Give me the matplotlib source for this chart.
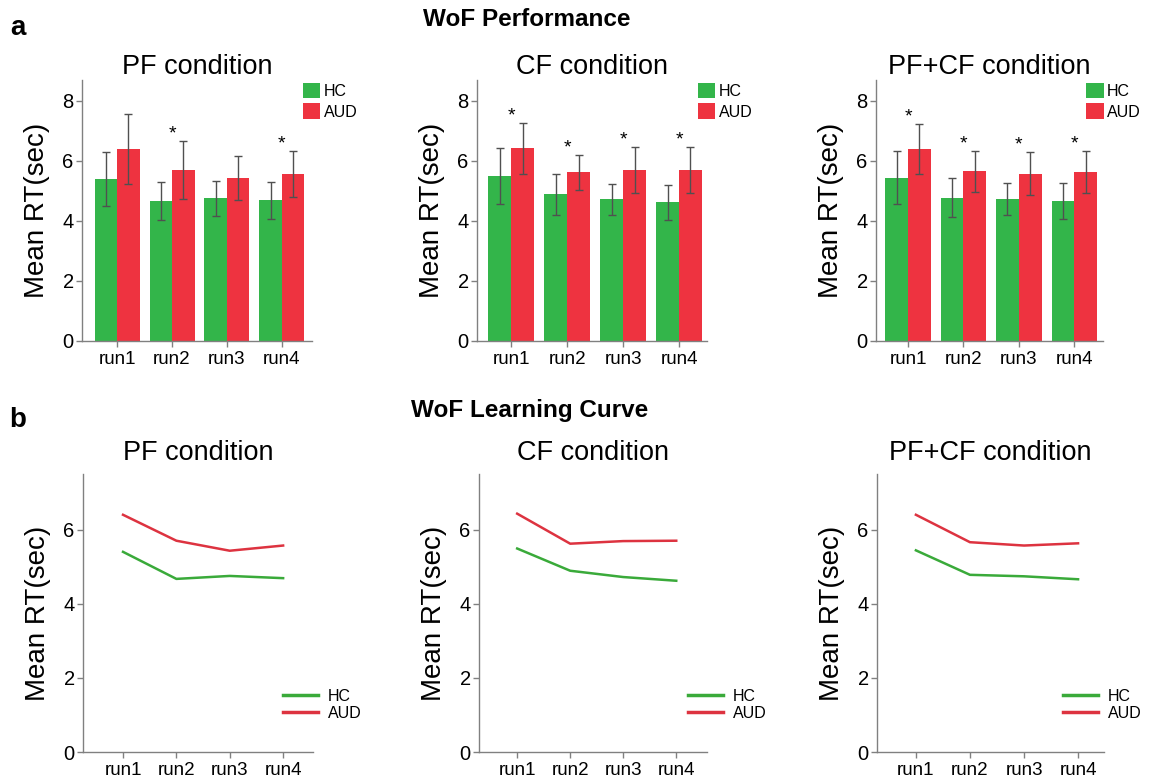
import matplotlib
matplotlib.use("Agg")
import matplotlib.pyplot as plt
import numpy as np
from matplotlib.patches import Patch
from matplotlib.lines import Line2D

plt.rcParams['font.family'] = ['Liberation Sans', 'DejaVu Sans']

runs = ["run1", "run2", "run3", "run4"]
conditions = ["PF condition", "CF condition", "PF+CF condition"]

# Mean RT (sec)
hc_pf = [5.40, 4.67, 4.75, 4.69]
aud_pf = [6.40, 5.70, 5.43, 5.57]
hc_cf = [5.49, 4.89, 4.72, 4.62]
aud_cf = [6.43, 5.62, 5.69, 5.70]
hc_pfcf = [5.44, 4.78, 4.74, 4.66]
aud_pfcf = [6.40, 5.66, 5.57, 5.63]

# Error bar half-lengths
hc_pf_err = [0.90, 0.62, 0.60, 0.61]
aud_pf_err = [1.18, 0.96, 0.73, 0.77]
hc_cf_err = [0.93, 0.68, 0.51, 0.58]
aud_cf_err = [0.85, 0.58, 0.77, 0.78]
hc_pfcf_err = [0.88, 0.64, 0.53, 0.59]
aud_pfcf_err = [0.83, 0.69, 0.72, 0.70]

# Significance markers (True = *)
sig_pf = [False, True, False, True]
sig_cf = [True, True, True, True]
sig_pfcf = [True, True, True, True]

hc_means = [hc_pf, hc_cf, hc_pfcf]
aud_means = [aud_pf, aud_cf, aud_pfcf]
hc_errs = [hc_pf_err, hc_cf_err, hc_pfcf_err]
aud_errs = [aud_pf_err, aud_cf_err, aud_pfcf_err]
sigs = [sig_pf, sig_cf, sig_pfcf]

GREEN = "#33b54a"
RED = "#ee3340"
LGREEN = "#3aaa3a"
LRED = "#dd3340"
SPINE = "#808080"

fig = plt.figure(figsize=(11.57, 7.79), dpi=100)

W, H = 1157, 779
def ax_rect(left, right, top, bottom):
    return [left / W, 1 - bottom / H, (right - left) / W, (bottom - top) / H]

top_rects = [ax_rect(82, 312, 80, 341), ax_rect(477, 707, 80, 341), ax_rect(876, 1103, 80, 341)]
bot_rects = [ax_rect(83, 313, 474, 752), ax_rect(479, 707, 474, 752), ax_rect(877, 1104, 474, 752)]
top_xlims = [(-0.64, 3.55), (-0.61, 3.5), (-0.58, 3.52)]
bot_xlims = [(-0.75, 3.56), (-0.72, 3.58), (-0.72, 3.48)]
top_leg_x = [0.96, 0.96, 0.925]
bot_leg_x = [0.87, 0.917, 0.82]

def style_axes(ax):
    for s in ["top", "right"]:
        ax.spines[s].set_visible(False)
    for s in ["left", "bottom"]:
        ax.spines[s].set_color(SPINE)
        ax.spines[s].set_linewidth(1.0)
    ax.tick_params(axis="both", colors=SPINE, length=4, width=1.0)
    ax.tick_params(axis="x", labelcolor="black", labelsize=13.5, pad=3)
    ax.tick_params(axis="y", labelcolor="black", labelsize=14.5, pad=2)
    ax.set_ylabel("Mean RT(sec)", fontsize=20, labelpad=9)

x = np.arange(len(runs))
bw = 0.41
for i in range(3):
    ax = fig.add_axes(top_rects[i])
    ax.bar(x - bw / 2, hc_means[i], bw, color=GREEN, label="HC", zorder=2)
    ax.bar(x + bw / 2, aud_means[i], bw, color=RED, label="AUD", zorder=2)
    ax.errorbar(x - bw / 2, hc_means[i], yerr=hc_errs[i], fmt="none",
                ecolor="#505050", elinewidth=1.0, capsize=3, capthick=1.0, zorder=3)
    ax.errorbar(x + bw / 2, aud_means[i], yerr=aud_errs[i], fmt="none",
                ecolor="#505050", elinewidth=1.0, capsize=3, capthick=1.0, zorder=3)
    for j in range(len(runs)):
        if sigs[i][j]:
            top = max(hc_means[i][j] + hc_errs[i][j], aud_means[i][j] + aud_errs[i][j])
            ax.text(x[j], top - 0.05, "*", ha="center", va="bottom", fontsize=14)
    ax.set_xlim(*top_xlims[i])
    ax.set_ylim(0, 8.7)
    ax.set_yticks([0, 2, 4, 6, 8])
    ax.set_xticks(x)
    ax.set_xticklabels(runs)
    style_axes(ax)
    ax.set_title(conditions[i], fontsize=19.5, pad=3)
    handles = [Patch(facecolor=GREEN, edgecolor="none"), Patch(facecolor=RED, edgecolor="none")]
    ax.legend(handles, ["HC", "AUD"], loc="upper left", bbox_to_anchor=(top_leg_x[i], 0.99),
              frameon=False, fontsize=11.5, handlelength=1.1, handleheight=1.1,
              handletextpad=0.2, labelspacing=0.3, borderpad=0, borderaxespad=0)

for i in range(3):
    ax = fig.add_axes(bot_rects[i])
    ax.plot(x, hc_means[i], color=LGREEN, lw=1.8, label="HC")
    ax.plot(x, aud_means[i], color=LRED, lw=1.8, label="AUD")
    ax.set_xlim(*bot_xlims[i])
    ax.set_ylim(0, 7.5)
    ax.set_yticks([0, 2, 4, 6])
    ax.set_xticks(x)
    ax.set_xticklabels(runs)
    style_axes(ax)
    ax.set_title(conditions[i], fontsize=19.5, pad=10)
    handles = [Line2D([], [], color=LGREEN, lw=2.5), Line2D([], [], color=LRED, lw=2.5)]
    ax.legend(handles, ["HC", "AUD"], loc="center left", bbox_to_anchor=(bot_leg_x[i], 0.17),
              frameon=False, fontsize=11.5, handlelength=2.2, handletextpad=0.6,
              labelspacing=0.15, borderpad=0, borderaxespad=0)

hdr = ['Liberation Sans Narrow', 'Liberation Sans', 'DejaVu Sans']
fig.text(527 / W, 1 - 20 / H, "WoF Performance", ha="center", va="center",
         fontsize=17.5, fontweight="bold", family=hdr)
fig.text(530 / W, 1 - 410 / H, "WoF Learning Curve", ha="center", va="center",
         fontsize=17.5, fontweight="bold", family=hdr)
fig.text(18 / W, 1 - 28 / H, "a", ha="center", va="center", fontsize=20,
         fontweight="bold", family=hdr)
fig.text(18 / W, 1 - 420 / H, "b", ha="center", va="center", fontsize=20,
         fontweight="bold", family=hdr)

fig.savefig("out.png", dpi=100)
